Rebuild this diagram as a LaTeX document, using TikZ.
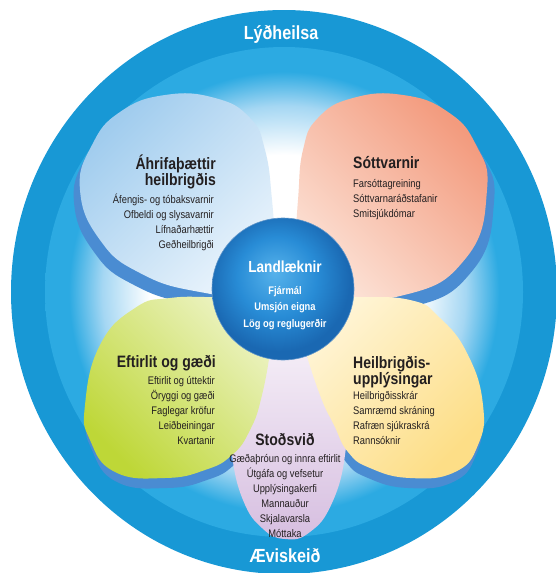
\documentclass[tikz,border=0pt]{standalone}
\usepackage{fontspec}
\setmainfont[FakeStretch=0.85]{Liberation Sans}
\usepackage{xcolor}
\usepackage{tikz}

\definecolor{outerblue}{RGB}{24,152,213}
\definecolor{bandblue}{RGB}{44,170,226}
\definecolor{discmid}{RGB}{165,215,243}
\definecolor{shadowblue}{RGB}{74,140,210}
\definecolor{tldark}{RGB}{160,204,238}
\definecolor{tllight}{RGB}{240,247,253}
\definecolor{trdark}{RGB}{243,155,126}
\definecolor{trlight}{RGB}{253,234,224}
\definecolor{bldark}{RGB}{190,215,55}
\definecolor{bllight}{RGB}{240,245,205}
\definecolor{brdark}{RGB}{253,222,135}
\definecolor{brlight}{RGB}{255,247,222}
\definecolor{lilacdark}{RGB}{214,190,224}
\definecolor{lilaclight}{RGB}{245,238,247}
\definecolor{hublight}{RGB}{86,178,235}
\definecolor{hubmid}{RGB}{40,140,214}
\definecolor{hubdark}{RGB}{26,104,178}
\definecolor{inkdark}{RGB}{35,31,32}

\pgfdeclareradialshading{discshade}{\pgfpoint{0bp}{0bp}}{color(0bp)=(white); color(14bp)=(white); color(19bp)=(discmid); color(22.5bp)=(bandblue); color(25bp)=(bandblue); color(50bp)=(bandblue)}
\pgfdeclareradialshading{hubshade}{\pgfpoint{-3bp}{6bp}}{color(0bp)=(hublight); color(14bp)=(hubmid); color(25bp)=(hubdark); color(50bp)=(hubdark)}

% petal outlines, #1 = path options
\newcommand{\petaltl}[1]{\path[#1] plot[smooth cycle, tension=0.8] coordinates {(278,298) (200,292) (140,273) (100,240) (80,190) (92,145) (120,112) (165,95) (215,98) (250,118) (265,150) (272,200) (276,260)};}
\newcommand{\petaltr}[1]{\path[#1] plot[smooth cycle, tension=0.8] coordinates {(290,300) (294,260) (298,200) (303,150) (318,118) (353,98) (403,95) (448,112) (476,145) (487,190) (466,258) (400,296)};}
\newcommand{\petalbl}[1]{\path[#1] plot[smooth cycle, tension=0.8] coordinates {(278,296) (272,340) (262,395) (250,430) (232,455) (205,470) (165,478) (115,472) (90,440) (85,405) (100,345) (135,308) (170,298) (220,297)};}
\newcommand{\petalbr}[1]{\path[#1] plot[smooth cycle, tension=0.8] coordinates {(290,296) (350,297) (410,300) (440,318) (468,355) (483,405) (478,445) (455,472) (410,478) (370,468) (348,452) (334,425) (320,395) (302,340)};}
\newcommand{\petalbot}[1]{\path[#1] plot[smooth cycle, tension=0.8] coordinates {(285,345) (250,380) (232,420) (232,455) (243,500) (262,528) (285,539) (310,532) (332,503) (345,455) (343,420) (325,380)};}

\tikzset{
  heading/.style={font=\bfseries\fontsize{16.5}{16}\selectfont, text=inkdark, inner sep=0pt},
  itemlist/.style={font=\fontsize{11}{15}\selectfont, text=inkdark, inner sep=0pt},
  hubtext/.style={font=\bfseries\fontsize{11}{16.5}\selectfont, text=white, inner sep=0pt, align=center},
  ringlabel/.style={font=\bfseries\fontsize{19}{19}\selectfont, text=white, inner sep=0pt},
}

\begin{document}
\begin{tikzpicture}[x=1pt,y=-1pt]
	\useasboundingbox (0,0) rectangle (555,573);
	\fill[outerblue] (284,292) ellipse [x radius=273, y radius=282];
	\shade[shading=discshade] (284,292) ellipse [x radius=239, y radius=245];
	% shadows under the petals
	\petaltl{fill=shadowblue, shift={(-6,12)}}
	\petaltr{fill=shadowblue, shift={(7,12)}}
	\petalbl{fill=shadowblue, shift={(2,10)}}
	\petalbr{fill=shadowblue, shift={(-2,10)}}
	\petalbot{top color=lilaclight, bottom color=lilacdark}
	\petaltl{top color=tldark, bottom color=tllight, shading angle=45}
	\petaltr{top color=trdark, bottom color=trlight, shading angle=-45}
	\petalbl{top color=bldark, bottom color=bllight, shading angle=135}
	\petalbr{top color=brdark, bottom color=brlight, shading angle=-135}
	\shade[shading=hubshade, draw=hubdark!70, line width=0.6pt] (283,289) circle [radius=71];
	% texts (base = last line)
	\node[ringlabel, anchor=base] (toplabel) at (281,39) {Lýðheilsa};
	\node[ringlabel, anchor=base] (botlabel) at (285,562) {Æviskeið};
	\node[heading, align=right, anchor=base east] (tlhead) at (216,185) {Áhrifaþættir\\heilbrigðis};
	\node[itemlist, align=right, anchor=base east] (tlitems) at (214,248) {Áfengis- og tóbaksvarnir\\Ofbeldi og slysavarnir\\Lífnaðarhættir\\Geðheilbrigði};
	\node[heading, anchor=base west] (trhead) at (353,168) {Sóttvarnir};
	\node[itemlist, align=left, anchor=base west] (tritems) at (353,217) {Farsóttagreining\\Sóttvarnaráðstafanir\\Smitsjúkdómar};
	\node[heading, text=white, font=\bfseries\fontsize{16}{16}\selectfont, anchor=base] (hubhead) at (285,272) {Landlæknir};
	\node[hubtext, anchor=base] (hubitems) at (285,327) {Fjármál\\Umsjón eigna\\Lög og reglugerðir};
	\node[heading, anchor=base east] (blhead) at (216,367) {Eftirlit og gæði};
	\node[itemlist, align=right, anchor=base east] (blitems) at (215,444) {Eftirlit og úttektir\\Öryggi og gæði\\Faglegar kröfur\\Leiðbeiningar\\Kvartanir};
	\node[heading, align=left, anchor=base west] (brhead) at (353,384) {Heilbrigðis-\\upplýsingar};
	\node[itemlist, align=left, anchor=base west] (britems) at (353,444) {Heilbrigðisskrár\\Samræmd skráning\\Rafræn sjúkraskrá\\Rannsóknir};
	\node[heading, anchor=base] (bothead) at (285,445) {Stoðsvið};
	\node[itemlist, align=center, anchor=base] (botitems) at (285,537) {Gæðaþróun og innra eftirlit\\Útgáfa og vefsetur\\Upplýsingakerfi\\Mannauður\\Skjalavarsla\\Móttaka};
\end{tikzpicture}
\end{document}
